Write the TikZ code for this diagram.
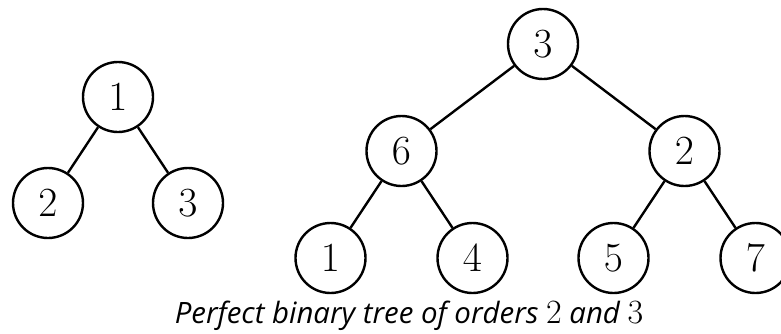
\RequirePackage{fix-cm}
\documentclass[tikz,border=0pt]{standalone}
\usepackage{fontspec}
\newfontfamily\capfont{Open Sans}
\usetikzlibrary{arrows}
\usetikzlibrary{shapes}

\tikzset{vert/.style={draw,circle,minimum size=35pt,inner sep=0pt,font=\huge}}
\newcommand{\ordnum}[1]{{\fontsize{17}{20}\selectfont$#1$}}

\begin{document}
\begin{tikzpicture}
      [x=1pt,y=1pt,line width=1.2pt,
        every child node/.style={vert}]
      \useasboundingbox (0,0) rectangle (390.5,-166.5);
      % order 2
      \begin{scope}[level distance=53pt,
          level 1/.style={sibling distance=70pt}]
      \node[vert] (a) at (59,-48.5) {$1$}
            child { node (a1) {$2$}}
            child { node (a2) {$3$}};
      \end{scope}
      % order 3
      \begin{scope}[level distance=53.5pt,
          level 1/.style={sibling distance=141.5pt},
            level 2/.style={sibling distance=71pt}]
      \node[vert] (b) at (271.5,-22) {$3$}
            child { node (b1) {$6$}
              child { node (b11) {$1$}}
              child { node (b12) {$4$}}}
            child { node (b2) {$2$}
              child { node (b21) {$5$}}
              child { node (b22) {$7$}}};
      \end{scope}
      \node[anchor=base,inner sep=0pt] (cap) at (204.5,-161.5)
            {\fontsize{14.7}{17}\selectfont\capfont\itshape Perfect binary tree of orders \ordnum{2} and \ordnum{3}};
    \end{tikzpicture}
\end{document}
